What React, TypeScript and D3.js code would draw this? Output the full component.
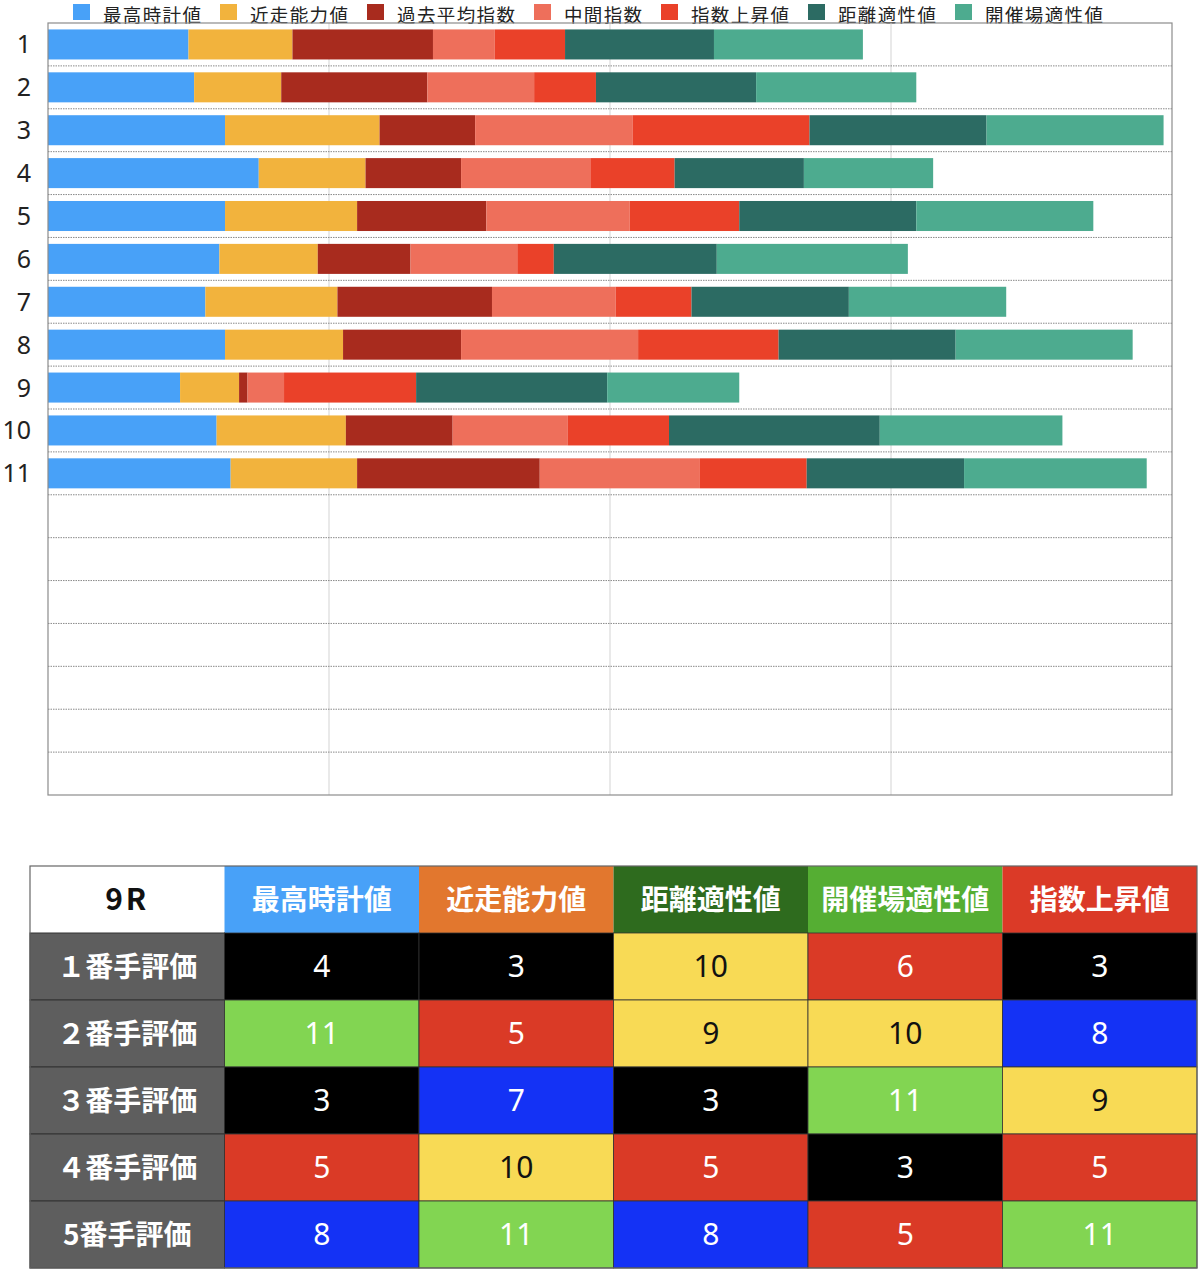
import React from "react";
import * as d3 from "d3";

const seriesNames = ["最高時計値", "近走能力値", "過去平均指数", "中間指数", "指数上昇値", "距離適性値", "開催場適性値"];
const seriesColors = ["#48A1F8", "#F2B33D", "#A82B1E", "#EE6F5B", "#EA4129", "#2C6B63", "#4DAB8F"];
const horses = ["1", "2", "3", "4", "5", "6", "7", "8", "9", "10", "11"];
const emptySlots = ["e12", "e13", "e14", "e15", "e16", "e17", "e18"];

const s1 = [50, 52, 63, 75, 63, 61, 56, 63, 47, 60, 65];
const s2 = [37, 31, 55, 38, 47, 35, 47, 42, 21, 46, 45];
const s3 = [50, 52, 34, 34, 46, 33, 55, 42, 3, 38, 65];
const s4 = [22, 38, 56, 46, 51, 38, 44, 63, 13, 41, 57];
const s5 = [25, 22, 63, 30, 39, 13, 27, 50, 47, 36, 38];
const s6 = [53, 57, 63, 46, 63, 58, 56, 63, 68, 75, 56];
const s7 = [53, 57, 63, 46, 63, 68, 56, 63, 47, 65, 65];
const seriesValues = [s1, s2, s3, s4, s5, s6, s7];

const xTicks = [0, 100, 200, 300, 400];

const tableTitle = "9R";
const tableHeaders = ["最高時計値", "近走能力値", "距離適性値", "開催場適性値", "指数上昇値"];
const headerColors = ["#48A1F8", "#E2772E", "#2E6B1E", "#55AE33", "#DB3A27"];
const rowLabels = ["１番手評価", "２番手評価", "３番手評価", "４番手評価", "5番手評価"];
const tableValues = [
  [4, 3, 10, 6, 3],
  [11, 5, 9, 10, 8],
  [3, 7, 3, 11, 9],
  [5, 10, 5, 3, 5],
  [8, 11, 8, 5, 11],
];
const valueColorKeys = [3, 4, 5, 6, 7, 8, 9, 10, 11];
const valueColorFills = ["#000000", "#000000", "#DA3A26", "#DA3A26", "#1432F5", "#1432F5", "#F8DA55", "#F8DA55", "#82D552"];

const FONT = "'Noto Sans CJK JP', 'Noto Sans', sans-serif";

export default function App() {
  const W = 1200;
  const H = 1271;
  const left = 48, right = 1172, top = 23, bottom = 795;

  const x = d3.scaleLinear().domain([0, 400]).range([left, right]);
  const y = d3.scaleBand<string>().domain([...horses, ...emptySlots]).range([top, bottom]).paddingInner(0.3).paddingOuter(0.15);
  const step = y.step();

  const rows = horses.map((h, i) => {
    const o: any = { horse: h };
    seriesNames.forEach((s, j) => (o[s] = seriesValues[j][i]));
    return o;
  });
  const stacked = d3.stack<any>().keys(seriesNames)(rows);

  const allCats = y.domain();
  const sepYs = allCats.slice(1).map((c) => (y(c) as number) - (step * 0.3) / 2);

  // legend layout
  const legendFont = 18.5;
  const legendItems: { x: number; name: string; color: string }[] = [];
  {
    const widths = seriesNames.map((n) => n.length * 20);
    const itemW = widths.map((w) => 17 + 13 + w + 17);
    const total = d3.sum(itemW) - 17;
    let cx = (73 + 1105) / 2 - total / 2;
    seriesNames.forEach((n, i) => {
      legendItems.push({ x: cx, name: n, color: seriesColors[i] });
      cx += itemW[i];
    });
  }

  // table
  const tX = d3.scaleBand<number>().domain(d3.range(6)).range([30, 1197]);
  const tY = d3.scaleBand<number>().domain(d3.range(6)).range([866, 1268]);
  const cw = tX.bandwidth();
  const ch = tY.bandwidth();
  const valColor = d3.scaleOrdinal<number, string>().domain(valueColorKeys).range(valueColorFills);

  return (
    <svg width={W} height={H} style={{ position: "absolute", left: 0, top: 0, background: "#fff" }} fontFamily={FONT}>
      {/* legend */}
      {legendItems.map((it) => (
        <g key={it.name}>
          <rect x={it.x} y={4} width={17} height={16} fill={it.color} />
          <text x={it.x + 30} y={21.5} fontSize={legendFont} fill="#222" textLength={it.name.length * 20 - 2}>{it.name}</text>
        </g>
      ))}

      {/* vertical grid */}
      {xTicks.slice(1, -1).map((t) => (
        <line key={t} x1={x(t)} x2={x(t)} y1={top} y2={bottom} stroke="#e2e2e2" strokeWidth={1.5} />
      ))}
      {/* horizontal dotted separators */}
      {sepYs.map((yy, i) => (
        <line key={i} x1={left} x2={right} y1={yy} y2={yy} stroke="#8a8a8a" strokeWidth={1} strokeDasharray="1.5,1" />
      ))}

      {/* bars */}
      {stacked.map((layer, j) => (
        <g key={layer.key} fill={seriesColors[j]}>
          {layer.map((d, i) => (
            <rect key={i} x={x(d[0])} y={y(horses[i]) as number} width={x(d[1]) - x(d[0])} height={y.bandwidth()} />
          ))}
        </g>
      ))}

      {/* frame */}
      <rect x={left} y={top} width={right - left} height={bottom - top} fill="none" stroke="#8c8c8c" strokeWidth={1.2} />

      {/* y labels */}
      {horses.map((h) => (
        <text key={h} x={31} y={(y(h) as number) + y.bandwidth() / 2} dy="0.36em" textAnchor="end" fontSize={25} fill="#222" fontFamily="'Noto Sans', sans-serif">
          {h}
        </text>
      ))}

      {/* table header */}
      <rect x={tX(0)} y={tY(0)} width={cw} height={ch} fill="#fff" />
      <text x={(tX(0) as number) + cw / 2} y={(tY(0) as number) + ch / 2} dy="0.36em" textAnchor="middle" fontSize={30} fontWeight={700} fill="#111" letterSpacing={3}>
        {tableTitle}
      </text>
      {tableHeaders.map((hd, j) => (
        <g key={hd}>
          <rect x={tX(j + 1)} y={tY(0)} width={cw} height={ch} fill={headerColors[j]} />
          <text x={(tX(j + 1) as number) + cw / 2} y={(tY(0) as number) + ch / 2} dy="0.36em" textAnchor="middle" fontSize={28} fontWeight={700} fill="#fff">
            {hd}
          </text>
        </g>
      ))}
      {rowLabels.map((rl, i) => (
        <g key={rl}>
          <rect x={tX(0)} y={tY(i + 1)} width={cw} height={ch} fill="#5E5E5E" stroke="#333" strokeWidth={1} />
          <text x={(tX(0) as number) + cw / 2} y={(tY(i + 1) as number) + ch / 2} dy="0.36em" textAnchor="middle" fontSize={28} fontWeight={700} fill="#fff">
            {rl}
          </text>
          {tableValues[i].map((v, j) => {
            const fill = valColor(v);
            const txt = fill === "#F8DA55" ? "#111" : "#fff";
            return (
              <g key={j}>
                <rect x={tX(j + 1)} y={tY(i + 1)} width={cw} height={ch} fill={fill} stroke="#333" strokeWidth={0.8} />
                <text x={(tX(j + 1) as number) + cw / 2} y={(tY(i + 1) as number) + ch / 2} dy="0.36em" textAnchor="middle" fontSize={30} fill={txt} fontFamily="'Noto Sans', sans-serif">
                  {v}
                </text>
              </g>
            );
          })}
        </g>
      ))}
      <rect x={30} y={866} width={1167} height={402} fill="none" stroke="#666" strokeWidth={1.2} />
    </svg>
  );
}
